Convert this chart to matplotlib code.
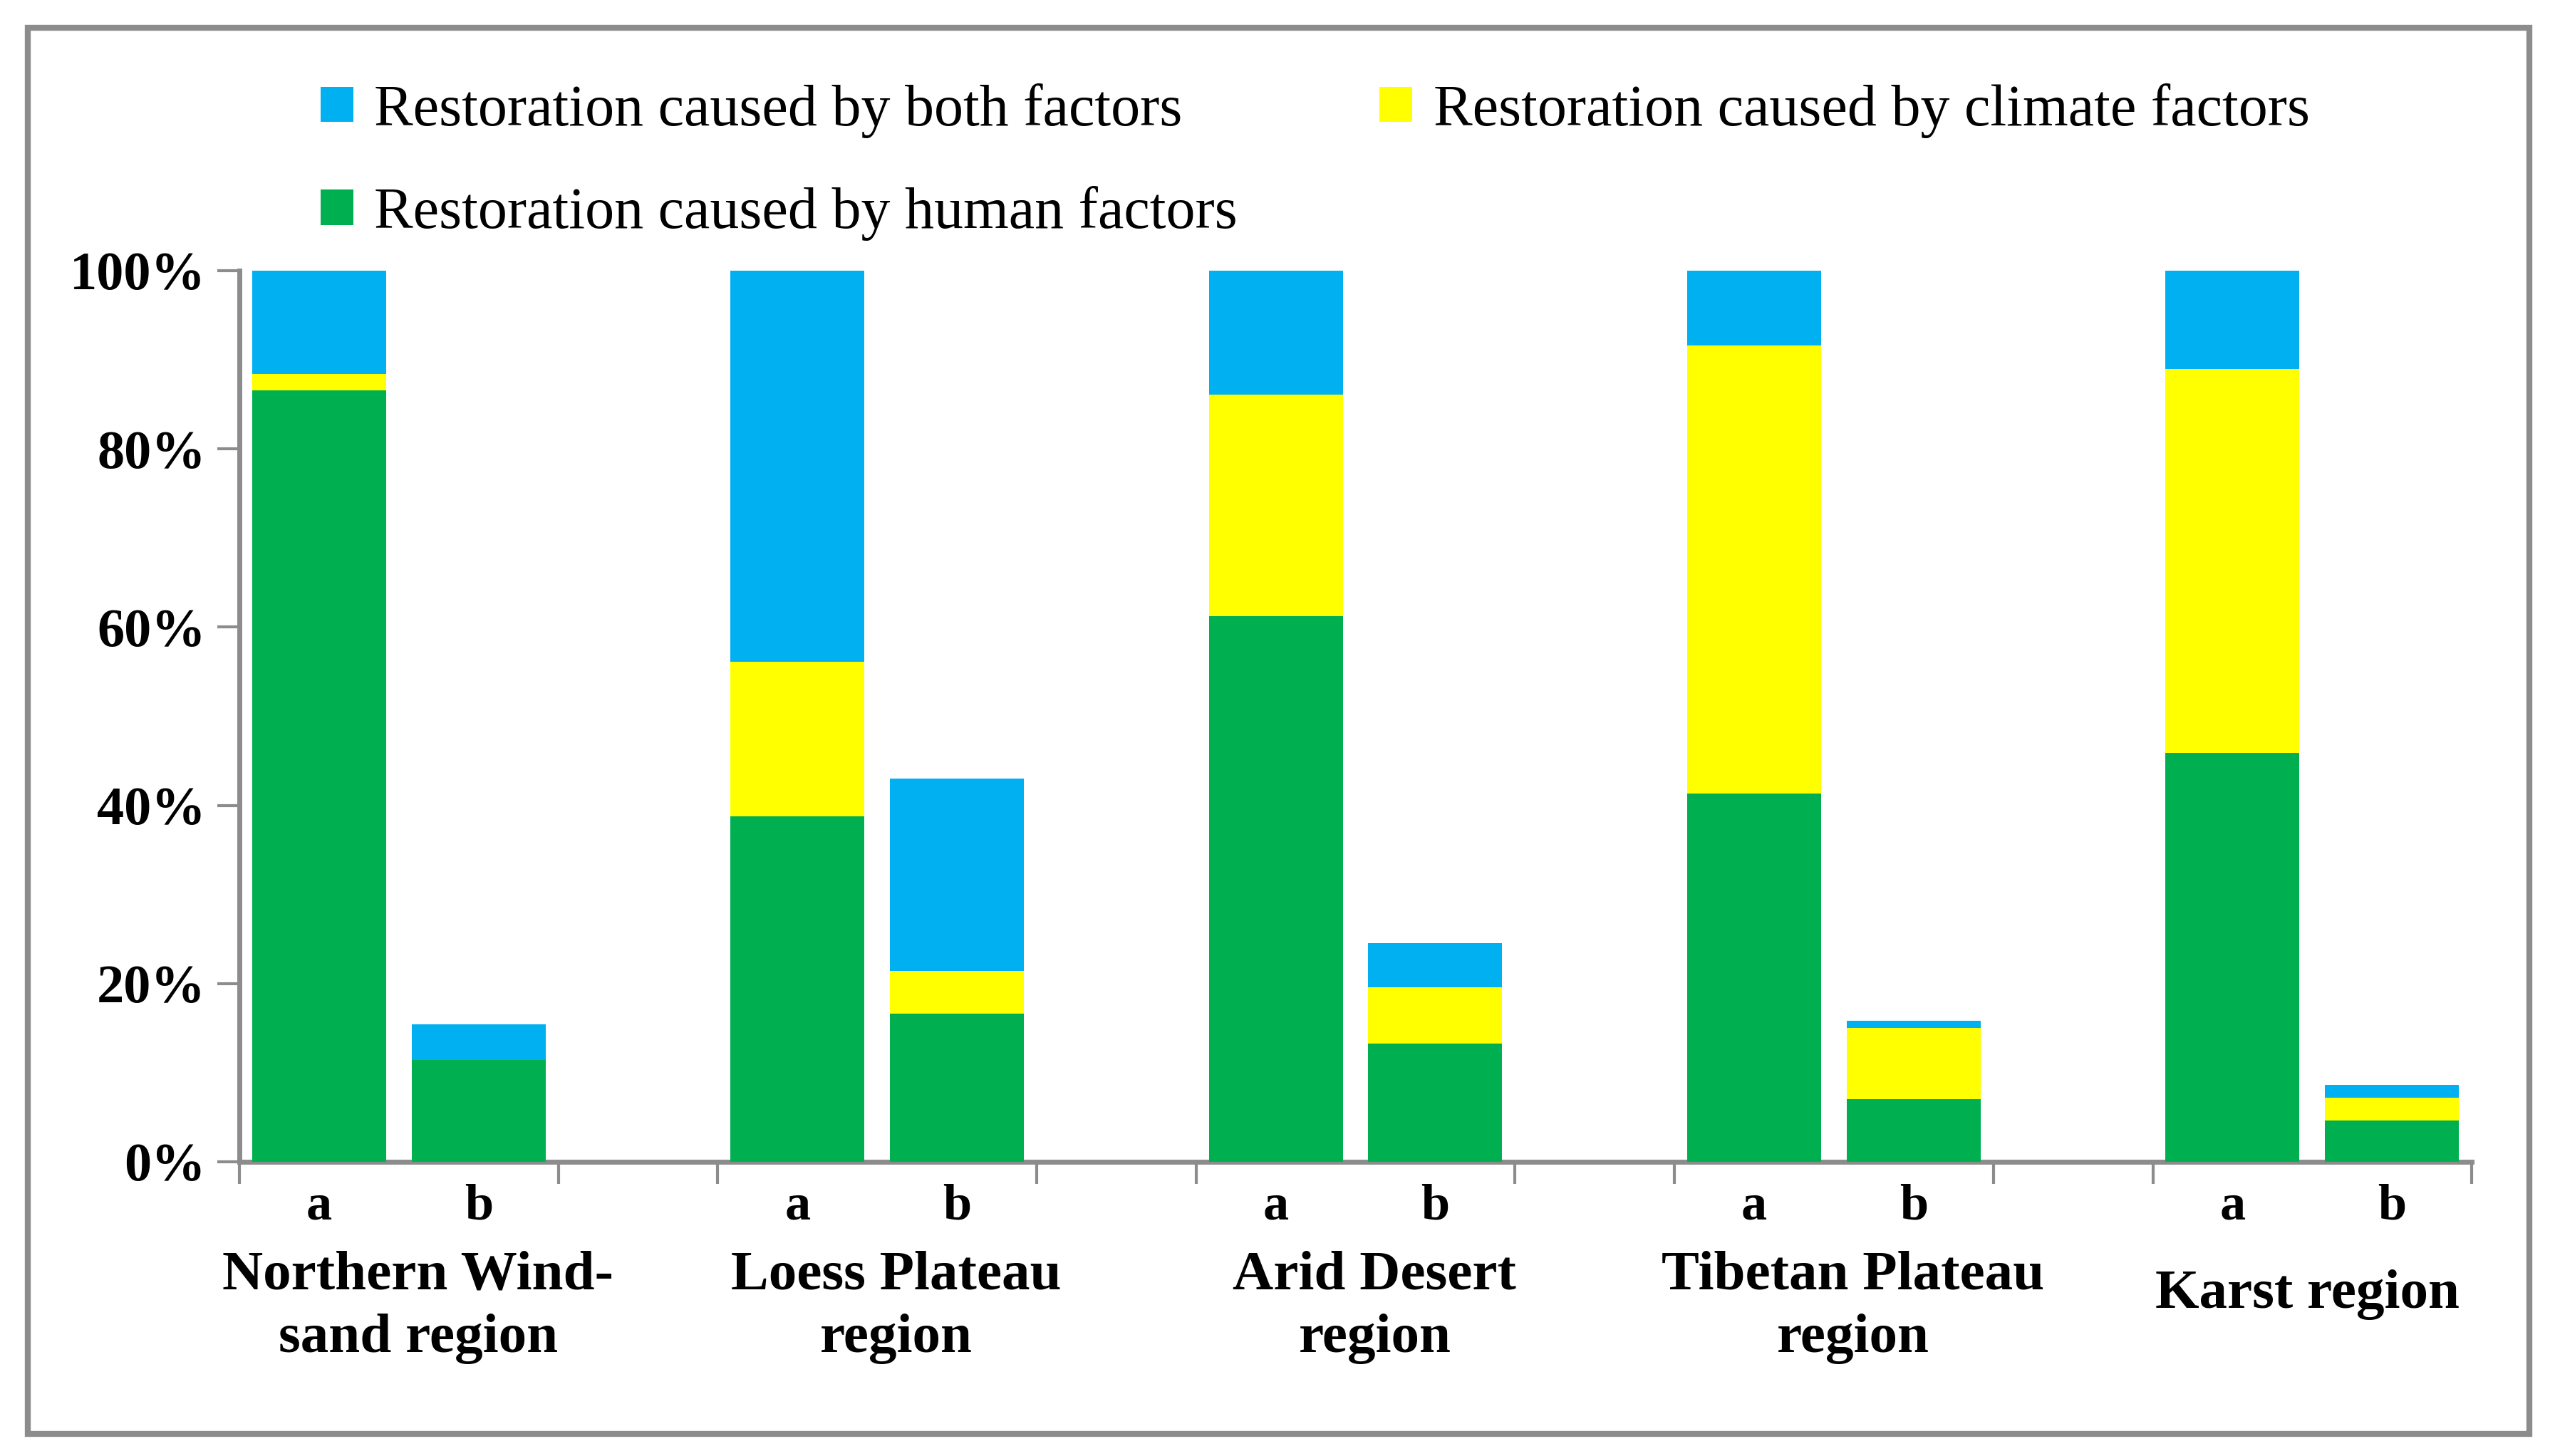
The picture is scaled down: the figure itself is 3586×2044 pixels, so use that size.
import matplotlib
matplotlib.use("Agg")
import matplotlib.pyplot as plt
import matplotlib.patches as mpatches
import matplotlib.transforms as mtransforms
import numpy as np

# datos (%)
regions = ["Northern Wind-\nsand region", "Loess Plateau\nregion", "Arid Desert\nregion",
           "Tibetan Plateau\nregion", "Karst region"]
sub_labels = ["a", "b"]
human = [86.6, 11.4, 38.8, 16.6, 61.2, 13.3, 41.3, 7.0, 45.9, 4.6]
climate = [1.8, 0.0, 17.3, 4.8, 24.9, 6.3, 50.3, 8.0, 43.1, 2.6]
both = [11.6, 4.0, 43.9, 21.6, 13.9, 4.9, 8.4, 0.8, 11.0, 1.4]
y_ticks = [0, 20, 40, 60, 80, 100]
y_tick_labels = ["0%", "20%", "40%", "60%", "80%", "100%"]

c_both = '#00B0F0'
c_climate = '#FFFF00'
c_human = '#00B050'
gray = '#8C8C8C'

plt.rcParams['font.family'] = ['Liberation Serif', 'DejaVu Serif']

fig = plt.figure(figsize=(35.86, 20.44), dpi=100)
ax = fig.add_axes([0.0937, 0.2021, 0.8737, 0.612])

# posiciones: grupos de 2 barras con un hueco entre grupos
x = np.array([g * 3 + s for g in range(len(regions)) for s in range(len(sub_labels))])
human = np.array(human)
climate = np.array(climate)
both = np.array(both)
w = 0.84

ax.bar(x, human, width=w, color=c_human, label='Restoration caused by human factors', zorder=3)
ax.bar(x, climate, width=w, bottom=human, color=c_climate,
       label='Restoration caused by climate factors', zorder=3)
ax.bar(x, both, width=w, bottom=human + climate, color=c_both,
       label='Restoration caused by both factors', zorder=3)

ax.set_xlim(-0.5, x.max() + 0.5)
ax.set_ylim(0, 100)

# ejes
for s in ['top', 'right']:
    ax.spines[s].set_visible(False)
for s in ['left', 'bottom']:
    ax.spines[s].set_color(gray)
    ax.spines[s].set_linewidth(5)

ax.set_yticks(y_ticks)
ax.set_yticklabels(y_tick_labels, fontsize=55, fontweight='bold')
ax.tick_params(axis='y', length=22, width=3, color=gray, pad=12)

# ticks mayores en los limites de los grupos, sin etiqueta
bounds = []
for g in range(len(regions)):
    bounds += [g * 3 - 0.5, g * 3 + 1.5]
ax.set_xticks(bounds)
ax.set_xticklabels([])
ax.tick_params(axis='x', which='major', length=22, width=3, color=gray)
# etiquetas a / b como ticks menores
ax.set_xticks(x, minor=True)
ax.set_xticklabels(sub_labels * len(regions), minor=True, fontsize=52, fontweight='bold')
ax.tick_params(axis='x', which='minor', length=0, pad=22)

# nombres de las regiones
trans = mtransforms.blended_transform_factory(ax.transData, fig.transFigure)
for g, name in enumerate(regions):
    two = '\n' in name
    yy = 0.102 if two else 0.111
    dx = 0.12 if two else -0.03
    ax.text(g * 3 + 0.5 + dx, yy, name, transform=trans, ha='center', va='center',
            fontsize=57, fontweight='bold', linespacing=1.32)

# leyenda
handles, labels = ax.get_legend_handles_labels()
order = [2, 0, 1]
fig.legend([handles[i] for i in order], [labels[i] for i in order],
           loc='upper left', bbox_to_anchor=(0.1255, 0.943), ncol=2, frameon=False,
           fontsize=59, handlelength=0.56, handleheight=0.56, handletextpad=0.36,
           columnspacing=2.43, labelspacing=0.82, borderpad=0, borderaxespad=0)

# marco exterior
fig.patches.append(mpatches.Rectangle((0.011, 0.015), 0.979, 0.966, transform=fig.transFigure,
                                      fill=False, edgecolor=gray, linewidth=6))

fig.savefig('out.png', dpi=100, facecolor='white')
